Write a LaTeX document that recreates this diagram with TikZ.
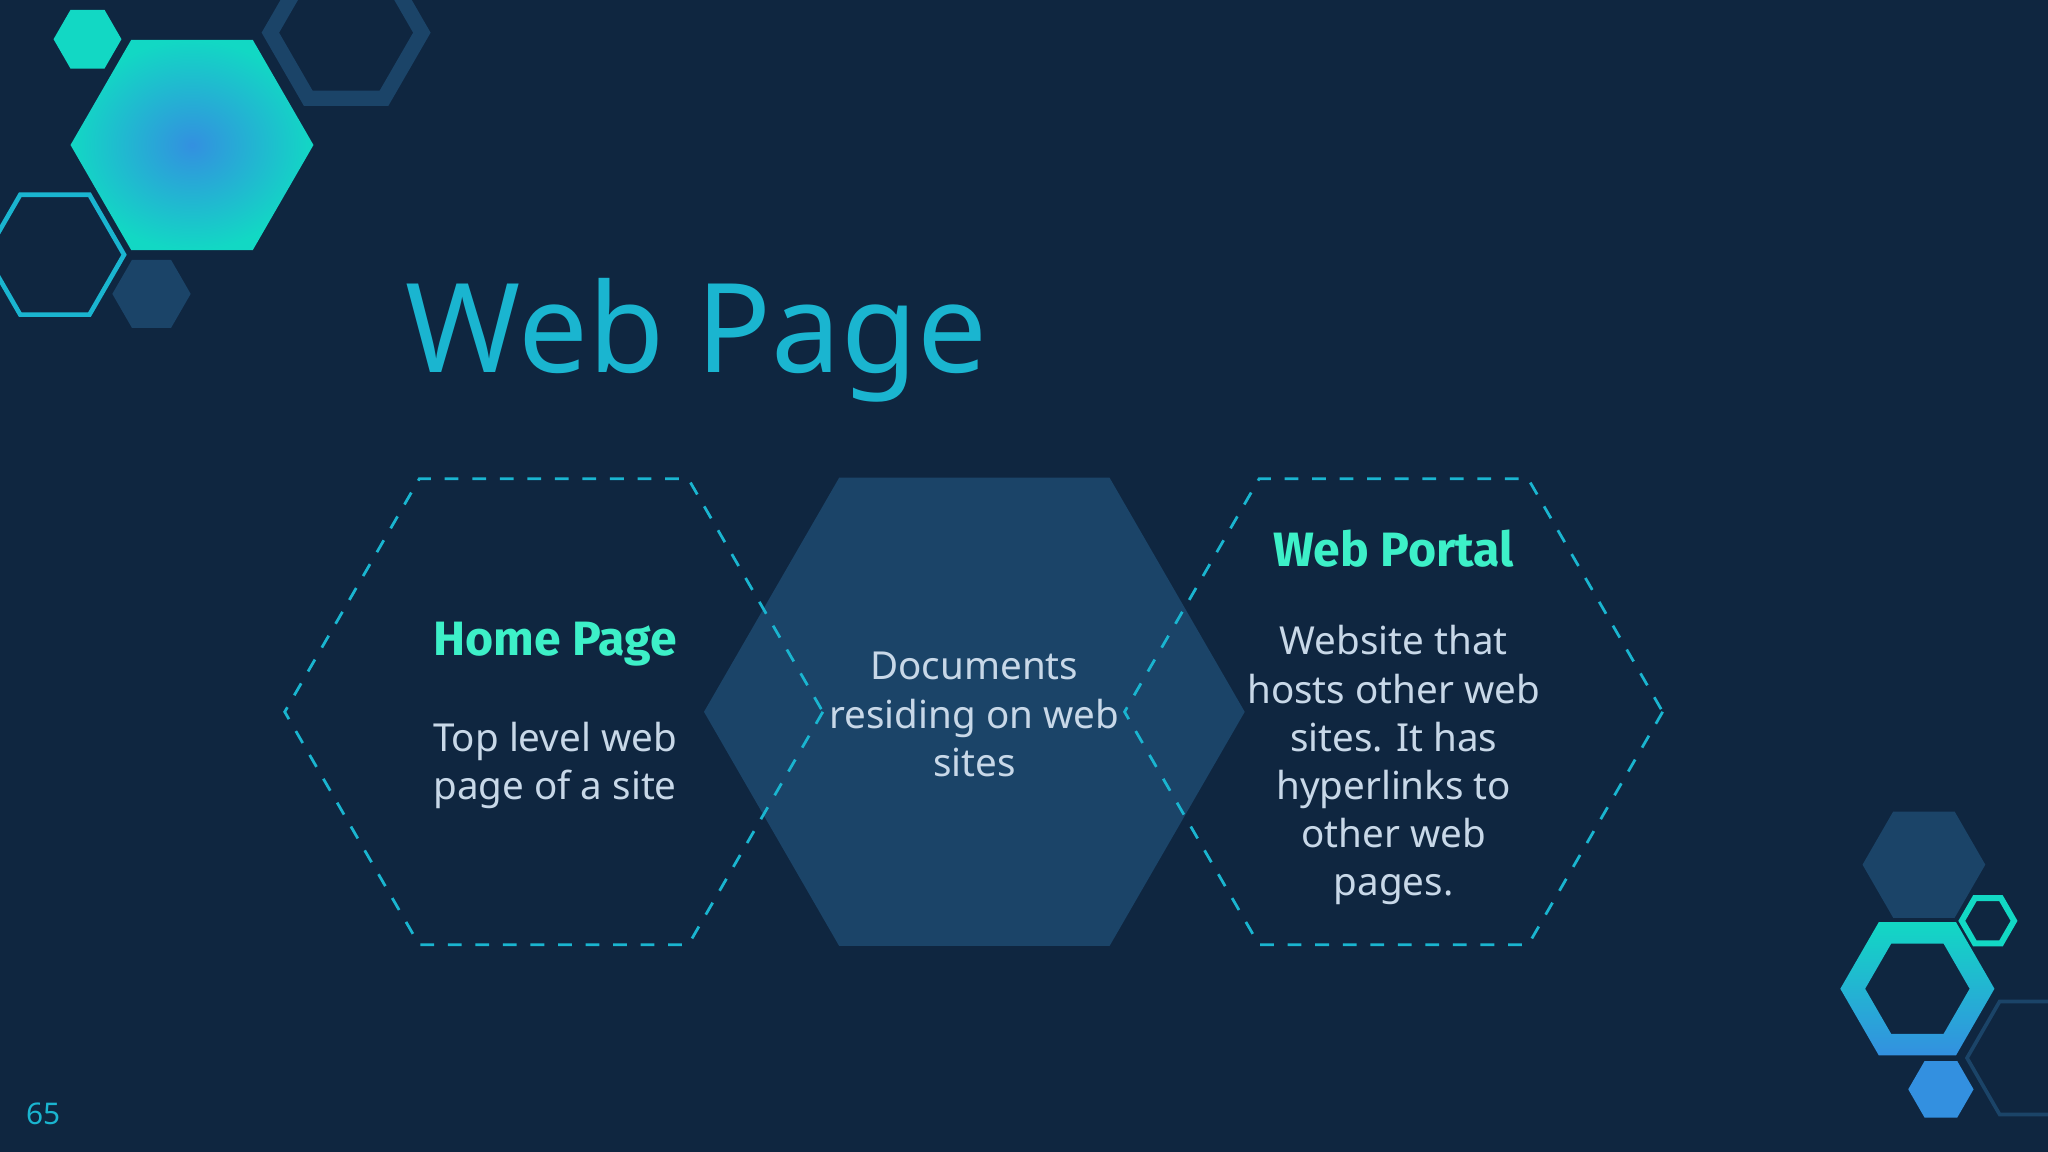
\documentclass[tikz,border=0pt]{standalone}
\usepackage{fontspec}
\setmainfont{Noto Sans}
\newfontfamily\headfont{Fira Sans}
\definecolor{bg}{HTML}{0F2640}
\definecolor{navy}{HTML}{1B4468}
\definecolor{cyanc}{HTML}{1AB5D0}
\definecolor{mint}{HTML}{3DF0C8}
\definecolor{txt}{HTML}{C8D8E8}
\definecolor{teal}{HTML}{12D8C4}
\definecolor{bluec}{HTML}{3390E0}
\newcommand{\hexpath}[2]{(#1) +(0:#2) -- +(60:#2) -- +(120:#2) -- +(180:#2) -- +(240:#2) -- +(300:#2) -- cycle}
\tikzset{
  dashhex/.style={draw=cyanc, dashed, line width=0.6pt},
  headtxt/.style={text=mint, font=\headfont\bfseries\fontsize{10.5}{12}\selectfont, align=center},
  bodytxt/.style={text=txt, font=\fontsize{8.4}{10.5}\selectfont, align=center},
}
\begin{document}
\begin{tikzpicture}[x=0.1mm,y=-0.1mm]
\fill[bg] (0,0) rectangle (1568,882);
\useasboundingbox (0,0) rectangle (1568,882);
% decorations top-left
\fill[teal] \hexpath{67,30}{26};
\draw[navy, line width=3.3pt] \hexpath{265,25}{58};
\shade[inner color=bluec, outer color=teal] \hexpath{147,111}{93};
\draw[cyanc, line width=1pt] \hexpath{42,195}{53};
\fill[navy] \hexpath{116,225}{30};
% title
\node[anchor=base west, text=cyanc, font=\fontsize{27}{30}\selectfont, inner sep=0] (title) at (310,285) {Web Page};
% hexagons
\fill[navy] \hexpath{746,545}{207};
\draw[dashhex] \hexpath{424,545}{206};
\draw[dashhex] \hexpath{1067,545}{206};
\node[headtxt] (h1) at (425,493) {Home Page};
\node[bodytxt] (b1) at (425,586) {Top level web\\page of a site};
\node[bodytxt, font=\bfseries\fontsize{8.4}{10.5}\selectfont] (b2) at (746,547) {Documents\\residing on web\\sites};
\node[headtxt] (h3) at (1067,420) {Web Portal};
\node[bodytxt] (b3) at (1067,586) {Website that\\hosts other web\\sites. It has\\hyperlinks to\\other web\\pages.};
% decorations bottom-right
\fill[navy] \hexpath{1473,662}{47};
\draw[navy, line width=0.8pt] \hexpath{1556,810}{50};
\draw[teal, line width=1.3pt] \hexpath{1522,705}{20};
\shade[top color=teal, bottom color=bluec, even odd rule] \hexpath{1468,757}{59} \hexpath{1468,757}{40};
\fill[bluec] \hexpath{1486,834}{25};
\node[text=cyanc, font=\fontsize{6.5}{8}\selectfont] (pg) at (33,853) {65};
\end{tikzpicture}
\end{document}
